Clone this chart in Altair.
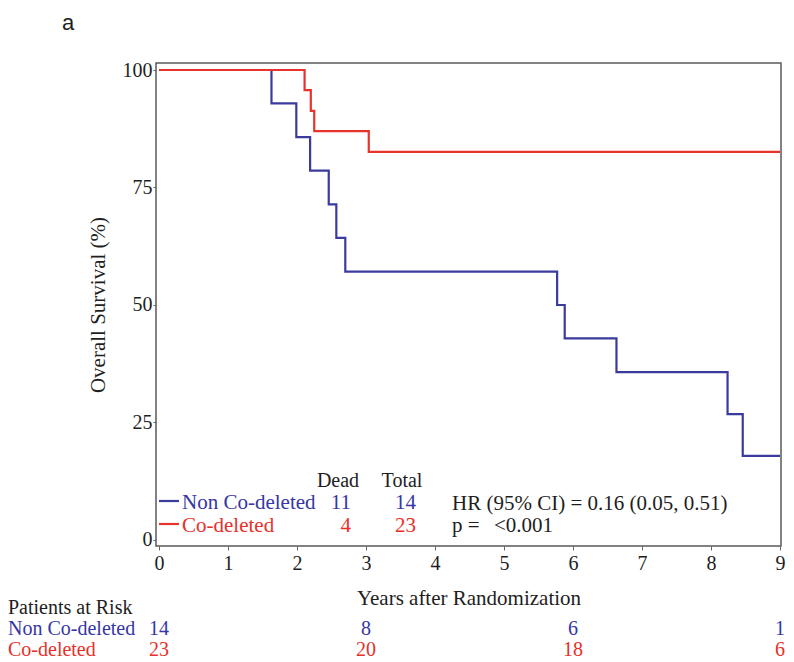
import altair as alt
import pandas as pd

# ---- data ----
groups = ["Non Co-deleted", "Co-deleted"]
non_time = [0, 1.63, 1.99, 2.19, 2.46, 2.57, 2.70, 5.77, 5.88, 6.63, 8.24, 8.46, 9.0]
non_surv = [100, 92.9, 85.7, 78.6, 71.4, 64.3, 57.1, 50.0, 42.9, 35.7, 26.8, 17.9, 17.9]
co_time = [0, 2.11, 2.20, 2.25, 3.04, 9.0]
co_surv = [100, 95.7, 91.3, 87.0, 82.6, 82.6]
dead = [11, 4]
total = [14, 23]
risk_years = [0, 3, 6, 9]
risk_non = [14, 8, 6, 1]
risk_co = [23, 20, 18, 6]
hr_text = "HR (95% CI) = 0.16 (0.05, 0.51)"
p_label = "p ="
p_value = "<0.001"

BLUE = "#3b3b9e"
RED = "#e8322c"
BLUE_T = "#3636a6"
RED_T = "#e8302a"
INK = "#1e1e1e"
SERIF = "Liberation Serif"
SANS = "Liberation Sans"

W, H = 625, 483

curve_df = pd.concat([
    pd.DataFrame({"time": non_time, "surv": non_surv, "group": groups[0]}),
    pd.DataFrame({"time": co_time, "surv": co_surv, "group": groups[1]}),
])

xs = alt.Scale(domain=[-0.0435, 9.0145], nice=False, zero=False)
ys = alt.Scale(domain=[-1.28, 101.49], nice=False, zero=False)

curves = alt.Chart(curve_df).mark_line(interpolate="step-after", strokeWidth=2.2).encode(
    x=alt.X("time:Q", scale=xs,
            axis=alt.Axis(values=[i * 0.25 for i in range(37)],
                          labelExpr="datum.value % 1 == 0 ? format(datum.value, 'd') : ''",
                          labelOverlap=False, labelFlush=False,
                          tickSize=4, labelPadding=3, labelFontSize=20,
                          title="Years after Randomization", titleFontSize=21,
                          titlePadding=14, titleFontWeight="normal")),
    y=alt.Y("surv:Q", scale=ys,
            axis=alt.Axis(values=[0, 25, 50, 75, 100], tickSize=3, labelPadding=1,
                          labelFontSize=20, title="Overall Survival (%)",
                          titleFontSize=21, titlePadding=14, titleFontWeight="normal")),
    color=alt.Color("group:N", scale=alt.Scale(domain=groups, range=[BLUE, RED]), legend=None),
    order="time:Q",
)

one = pd.DataFrame({"a": [0]})


def label(text, x, y, color=INK, align="left", size=21, font=SERIF):
    return alt.Chart(one).mark_text(
        text=text, align=align, baseline="alphabetic", fontSize=size, font=font, color=color
    ).encode(x=alt.value(x), y=alt.value(y))


def sample(y, color):
    return alt.Chart(one).mark_rule(color=color, strokeWidth=2.2).encode(
        x=alt.value(3), x2=alt.value(23), y=alt.value(y))


legend = [
    label("Dead", 182, 424, align="center", size=20),
    label("Total", 246, 424, align="center", size=20),
    sample(438, BLUE),
    sample(461, RED),
    label(groups[0], 26, 446, BLUE_T),
    label(groups[1], 26, 469, RED_T),
    label(str(dead[0]), 195, 446, BLUE_T, align="right"),
    label(str(total[0]), 260, 446, BLUE_T, align="right"),
    label(str(dead[1]), 195, 469, RED_T, align="right"),
    label(str(total[1]), 260, 469, RED_T, align="right"),
    label(hr_text, 296, 447),
    label(p_label, 296, 469),
    label(p_value, 338, 469),
]

risk_df = pd.DataFrame({"year": risk_years, "non": risk_non, "co": risk_co})


def risk_row(field, y, color):
    return alt.Chart(risk_df).mark_text(
        align="center", baseline="alphabetic", fontSize=20, font=SERIF, color=color
    ).encode(x=alt.X("year:Q", scale=xs), y=alt.value(y), text=alt.Text(f"{field}:Q", format="d"))


bottom = [
    label("Patients at Risk", -148, 551, size=20),
    label(groups[0], -148, 572, BLUE_T, size=20),
    label(groups[1], -148, 593, RED_T, size=20),
    risk_row("non", 572, BLUE_T),
    risk_row("co", 593, RED_T),
    label("a", -88, -33, INK, align="center", size=22, font=SANS),
]

chart = alt.layer(curves, *legend, *bottom).properties(
    width=W, height=H,
    autosize=alt.AutoSizeParams(type="none"),
    padding={"left": 148, "top": 55, "right": 5, "bottom": 117},
).configure_view(
    stroke="#5a5a5a", strokeWidth=1.5
).configure_axis(
    grid=False, domain=False, labelFont=SERIF, titleFont=SERIF,
    labelColor=INK, titleColor=INK, tickColor="#666666", tickWidth=1
)

chart.save("out.html", embed_options={"renderer": "svg", "actions": False})
